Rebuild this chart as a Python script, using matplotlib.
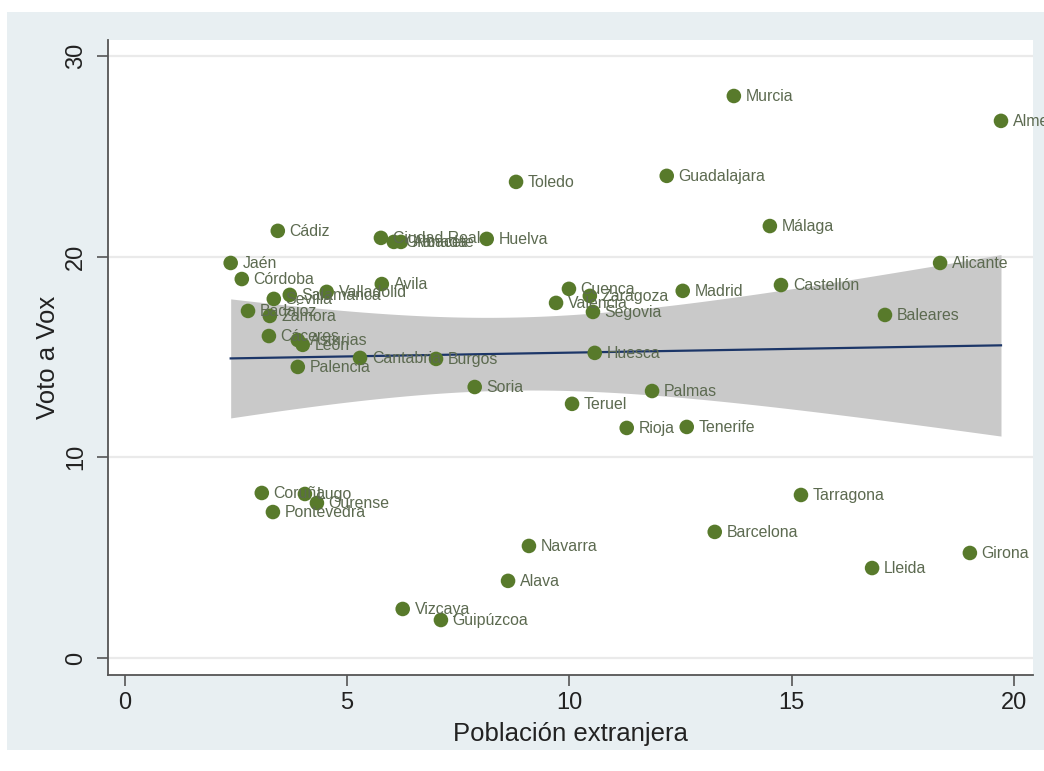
import numpy as np
import matplotlib
matplotlib.use("Agg")
import matplotlib.pyplot as plt
from matplotlib.patches import Rectangle

plt.rcParams['font.family'] = ['Liberation Sans', 'DejaVu Sans']

# provincias: población extranjera (%) y voto a Vox (%)
provincias = ["Murcia", "Almería", "Toledo", "Guadalajara", "Málaga", "Cádiz",
              "Ciudad Real", "Granada", "Albacete", "Huelva", "Jaén", "Córdoba",
              "Avila", "Valladolid", "Salamanca", "Sevilla", "Badajoz", "Zamora",
              "Cáceres", "Asturias", "León", "Palencia", "Cantabria", "Burgos",
              "Soria", "Cuenca", "Valencia", "Zaragoza", "Segovia", "Madrid",
              "Castellón", "Alicante", "Baleares", "Huesca", "Palmas", "Teruel",
              "Rioja", "Tenerife", "Coruña", "Lugo", "Ourense", "Pontevedra",
              "Navarra", "Alava", "Vizcaya", "Guipúzcoa", "Tarragona", "Barcelona",
              "Lleida", "Girona"]
extranjera = [13.70, 19.71, 8.80, 12.19, 14.51, 3.44,
              5.76, 6.05, 6.21, 8.14, 2.38, 2.63,
              5.78, 4.54, 3.71, 3.35, 2.77, 3.26,
              3.24, 3.89, 4.00, 3.89, 5.29, 7.00,
              7.87, 9.99, 9.70, 10.46, 10.53, 12.55,
              14.76, 18.34, 17.10, 10.57, 11.86, 10.06,
              11.29, 12.64, 3.08, 4.05, 4.32, 3.33,
              9.09, 8.62, 6.25, 7.11, 15.21, 13.27,
              16.81, 19.01]
voto_vox = [28.00, 26.76, 23.72, 24.02, 21.52, 21.28,
            20.93, 20.73, 20.73, 20.88, 19.68, 18.88,
            18.63, 18.24, 18.09, 17.89, 17.29, 17.04,
            16.04, 15.84, 15.60, 14.50, 14.95, 14.90,
            13.50, 18.39, 17.69, 18.04, 17.24, 18.29,
            18.58, 19.68, 17.09, 15.20, 13.30, 12.66,
            11.46, 11.51, 8.22, 8.17, 7.72, 7.27,
            5.58, 3.84, 2.44, 1.89, 8.12, 6.28,
            4.48, 5.23]

x = np.array(extranjera)
y = np.array(voto_vox)

# ajuste lineal con intervalo de confianza al 95% (como lfitci)
b1, b0 = np.polyfit(x, y, 1)
n = len(x)
resid = y - (b0 + b1 * x)
s = np.sqrt(np.sum(resid ** 2) / (n - 2))
sxx = np.sum((x - x.mean()) ** 2)
t_crit = 2.0106  # t(0.975, 48)
xs = np.linspace(x.min(), x.max(), 200)
fit = b0 + b1 * xs
half = t_crit * s * np.sqrt(1 / n + (xs - x.mean()) ** 2 / sxx)

fig = plt.figure(figsize=(10.44, 7.71), dpi=100, facecolor='white')
fig.patches.append(Rectangle((7 / 1044, 1 - 750 / 771), 1 - 7 / 1044, (750 - 12) / 771,
                             transform=fig.transFigure, facecolor='#e8eff2',
                             edgecolor='none', zorder=-10))
ax = fig.add_axes([108 / 1044, 1 - 675 / 771, (1033 - 108) / 1044, (675 - 40) / 771])
ax.set_facecolor('white')

ax.fill_between(xs, fit - half, fit + half, color='#c9c9c9', linewidth=0, zorder=2)
ax.plot(xs, fit, color='#1c3668', linewidth=1.6, zorder=3)
ax.scatter(x, y, s=110, color='#587a2b', edgecolors='none', zorder=4)
for name, xi, yi in zip(provincias, x, y):
    ax.annotate(name, (xi, yi), xytext=(8.5, -0.5), textcoords='offset points',
                va='center', ha='left', fontsize=11.4, color='#5c6a50', zorder=5,
                annotation_clip=False)

ax.set_xlim(-0.38, 20.43)
ax.set_ylim(-0.85, 30.79)
ax.set_xticks([0, 5, 10, 15, 20])
ax.set_yticks([0, 10, 20, 30])
ax.grid(axis='y', color='#eaeaea', linewidth=1.6, zorder=1)
ax.set_axisbelow(True)

for side in ['top', 'right']:
    ax.spines[side].set_visible(False)
for side in ['left', 'bottom']:
    ax.spines[side].set_color('#555555')
    ax.spines[side].set_linewidth(1.3)

ax.tick_params(axis='both', colors='#555555', length=8, width=1.2, labelcolor='#222222',
               labelsize=17)
ax.tick_params(axis='x', pad=4)
ax.tick_params(axis='y', pad=7)
for lbl in ax.get_yticklabels():
    lbl.set_rotation(90)
    lbl.set_va('center')

ax.set_xlabel("Población extranjera", fontsize=18.5, color='#222222', labelpad=6)
ax.set_ylabel("Voto a Vox", fontsize=18.5, color='#222222', labelpad=4)

fig.savefig("out.png", dpi=100, facecolor=fig.get_facecolor())
